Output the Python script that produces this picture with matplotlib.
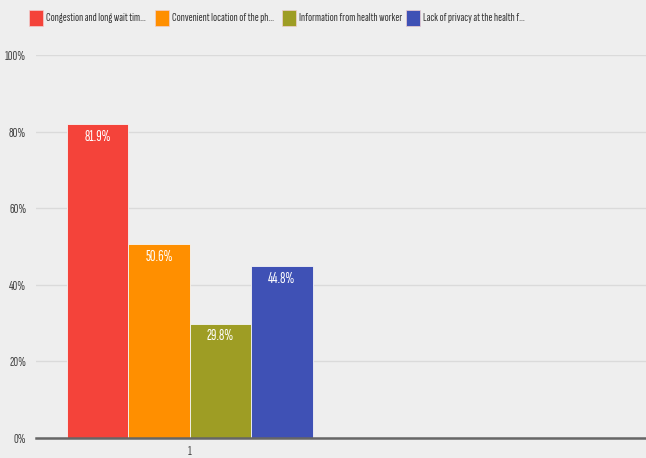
"""Balkendiagramm: Gruende fuer die Wahl der Apotheke."""

import matplotlib.pyplot as plt
from matplotlib.patches import Rectangle

categories = [
    "Congestion and long wait tim...",
    "Convenient location of the ph...",
    "Information from health worker",
    "Lack of privacy at the health f...",
]
values = [81.9, 50.6, 29.8, 44.8]
colors = ["#f4433a", "#ff8f00", "#9e9d24", "#3f51b5"]
yticks = [0, 20, 40, 60, 80, 100]
xtick_label = "1"

# schmale Schrift wie im Original
plt.rcParams["font.family"] = ["Sofia Sans Extra Condensed", "Roboto Condensed", "DejaVu Sans"]

bg = "#eeeeee"
fig = plt.figure(figsize=(6.46, 4.58), dpi=100, facecolor=bg)
ax = fig.add_axes([36 / 646, 1 - 438 / 458, 1 - 36 / 646, (438 - 55) / 458])
ax.set_facecolor(bg)

xs = list(range(len(values)))
bars = ax.bar(xs, values, width=1.0, color=colors, edgecolor="#f5f5f5",
              linewidth=0.6, zorder=3)
for x, v in zip(xs, values):
    ax.annotate(f"{v:.1f}%", (x, v), xytext=(0, -4), textcoords="offset points",
                ha="center", va="top", color="white", fontsize=11, zorder=4)

ax.set_xlim(-1.0, 8.92)
ax.set_ylim(0, 100)
ax.set_yticks(yticks)
ax.set_yticklabels([f"{t}%" for t in yticks])
ax.set_xticks([1.5])
ax.set_xticklabels([xtick_label])
ax.grid(axis="y", color="#dadada", linewidth=1, zorder=0)
for side in ["top", "right", "left"]:
    ax.spines[side].set_visible(False)
ax.spines["bottom"].set_color("#666666")
ax.spines["bottom"].set_linewidth(1.8)
ax.spines["bottom"].set_zorder(5)
ax.tick_params(axis="both", length=0, labelsize=9.5, labelcolor="#444444")
ax.tick_params(axis="y", pad=7)
ax.tick_params(axis="x", pad=5)

# Legende oben, manuell platziert
box_x = [29, 155, 282, 406]
for bx, c, name in zip(box_x, colors, categories):
    fig.patches.append(Rectangle((bx / 646, 1 - 26 / 458), 14 / 646, 16 / 458,
                                 transform=fig.transFigure, facecolor=c,
                                 edgecolor="#f0d0d0", linewidth=0.5))
    fig.text((bx + 17) / 646, 1 - 18 / 458, name, ha="left", va="center",
             fontsize=8.6, color="#333333")

fig.savefig("out.png", dpi=100, facecolor=bg)
